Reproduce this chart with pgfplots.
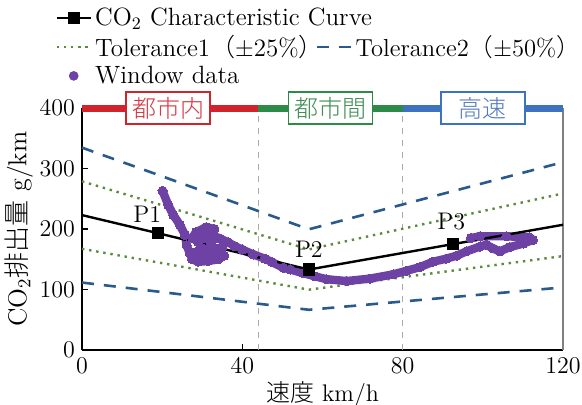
\documentclass[border=0pt]{standalone}
\usepackage{fontspec}
\usepackage{pgfplots}
\pgfplotsset{compat=1.18}
\newfontfamily\cjk{Noto Sans CJK JP}
\newfontfamily\cjkl{Noto Sans CJK JP Light}
\definecolor{bandred}{RGB}{210,35,45}
\definecolor{bandgreen}{RGB}{46,139,71}
\definecolor{bandblue}{RGB}{61,114,192}
\definecolor{txtred}{RGB}{215,55,65}
\definecolor{txtgreen}{RGB}{60,140,80}
\definecolor{txtblue}{RGB}{80,120,190}
\definecolor{tolgreen}{RGB}{90,140,60}
\definecolor{tolblue}{RGB}{40,90,140}
\definecolor{winpurple}{RGB}{110,65,165}
\definecolor{vgray}{RGB}{170,170,170}
\begin{document}
\begin{tikzpicture}[font=\fontsize{12}{14}\selectfont]
\useasboundingbox (-41pt,-27pt) rectangle (250pt,175pt);
\begin{axis}[
 at={(0,0)}, anchor=south west,
 scale only axis, width=240.5pt, height=121pt,
 xmin=0, xmax=120, ymin=0, ymax=400,
 axis x line*=bottom, axis y line*=left,
 axis line style={line width=0.8pt, black},
 xtick={0,40,80,120}, ytick={0,100,200,300,400},
 tick align=inside, major tick length=3pt,
 tick style={black, line width=0.6pt},
 clip=false,
 /pgf/number format/assume math mode=true,
 xlabel={{\cjkl 速度} km/h},
 ylabel={CO\textsubscript{2}{\cjkl 排出量} g/km},
 xlabel style={yshift=3pt},
 ylabel style={yshift=-3.5pt, font=\fontsize{13}{15}\selectfont},
 legend cell align=left,
 legend style={draw=none, fill=none, at={(-0.056,1.252)}, anchor=west,
   inner sep=0pt, row sep=0pt, nodes={inner sep=1.6pt},
   font=\fontsize{12.5}{14}\selectfont},
]
\addlegendimage{black, line width=1.2pt, mark=square*, mark size=2.5pt}
\addlegendentry{CO\textsubscript{2} Characteristic Curve}
\addlegendimage{tolgreen, line width=1.2pt, dash pattern=on 1.2pt off 2.4pt}
\addlegendentry{Tolerance1{\cjkl （}$\pm$25\%{\cjkl ）}}
\addlegendimage{only marks, mark=*, mark size=2.2pt, winpurple}
\addlegendentry{Window data}

% region separators
\addplot[forget plot, vgray, line width=0.6pt, dashed] coordinates {(44,0) (44,400)};
\addplot[forget plot, vgray, line width=0.6pt, dashed] coordinates {(80,0) (80,400)};
\addplot[forget plot, gray, line width=0.8pt] coordinates {(120,0) (120,400)};

% tolerance 2 (+-50%)
\addplot[forget plot, tolblue, line width=1.3pt, dash pattern=on 6pt off 5pt] coordinates {(0,334.5) (19,289.5) (56.6,199.5) (92.5,262.5) (120,310.5)};
\addplot[forget plot, tolblue, line width=1.3pt, dash pattern=on 6pt off 5pt] coordinates {(0,111.5) (19,96.5) (56.6,66.5) (92.5,87.5) (120,103.5)};
% tolerance 1 (+-25%)
\addplot[forget plot, tolgreen, line width=1.2pt, dash pattern=on 1.2pt off 2.4pt] coordinates {(0,278.75) (19,241.25) (56.6,166.25) (92.5,218.75) (120,258.75)};
\addplot[forget plot, tolgreen, line width=1.2pt, dash pattern=on 1.2pt off 2.4pt] coordinates {(0,167.25) (19,144.75) (56.6,99.75) (92.5,131.25) (120,155.25)};

% window data
\addplot[forget plot, winpurple, line width=4.2pt, line join=round, line cap=round, mark=*, mark size=2.3pt, mark options={line width=0pt}] coordinates {
(20.1,263) (21.5,240) (22.8,223) (24.4,207) (25.7,190) (26.1,173) (26.9,160)
(27.5,150) (29,146) (31.5,147) (34,150) (35.5,156) (33,158) (30,156) (28.5,162)
(30,168) (33,166) (35,170) (34.5,165) (32,172) (29,178)
(27.5,186) (28.5,195) (31,203) (33,200) (30.5,192) (30,184) (32.5,182) (32.5,190)
(34.5,184) (36.5,178) (38,172)
(40,166) (42.7,158) (45.6,151) (47.5,145) (50.2,136) (52,133) (55.2,127) (58,122)
(61,117) (66,114) (71.8,118) (77.6,125) (81,131) (84.3,137) (87.6,146) (90.9,151)
(93.5,156) (95.9,163) (99.3,171) (100.9,174) (102.5,168) (104.2,163) (106.7,170)
(110.1,176) (112.5,182) (111.7,186) (105.9,188) (99.3,188) (97,185)};

% characteristic curve
\addplot[forget plot, black, line width=1.2pt, mark=square*, mark size=2.5pt, mark indices={2,3,4}] coordinates {(0,223) (19,193) (56.6,133) (92.5,175) (120,207)};
\node at (axis cs:16.3,224) {P1};
\node at (axis cs:56.6,167) {P2};
\node at (axis cs:92.1,212.5) {P3};

% top band
\addplot[forget plot, bandred, line width=3.5pt] coordinates {(0,400) (44,400)};
\addplot[forget plot, bandgreen, line width=3.5pt] coordinates {(44,400) (80,400)};
\addplot[forget plot, bandblue, line width=3.5pt] coordinates {(80,400) (120,400)};
\node[draw=bandred, line width=0.8pt, fill=white, text=txtred, minimum width=42pt, minimum height=16pt, inner sep=1pt] at (axis cs:21.5,400) {\cjkl 都市内};
\node[draw=bandgreen, line width=0.8pt, fill=white, text=txtgreen, minimum width=42pt, minimum height=16pt, inner sep=1pt] at (axis cs:62,400) {\cjkl 都市間};
\node[draw=bandblue, line width=0.8pt, fill=white, text=txtblue, minimum width=42pt, minimum height=16pt, inner sep=1pt] at (axis cs:100,400) {\cjkl 高速};
\end{axis}
\begin{axis}[
 at={(0,0)}, anchor=south west,
 scale only axis, width=240.5pt, height=121pt,
 hide axis, xmin=0, xmax=1, ymin=0, ymax=1,
 legend cell align=left,
 legend style={draw=none, fill=none, at={(0.486,1.252)}, anchor=west,
   inner sep=0pt, nodes={inner sep=1.4pt},
   font=\fontsize{12.3}{14}\selectfont},
]
\addlegendimage{tolblue, line width=1.3pt, dash pattern=on 6pt off 5pt}
\addlegendentry{Tolerance2{\cjkl （}$\pm$50\%\makebox[0.4em][l]{\cjkl ）}}
\end{axis}
\end{tikzpicture}
\end{document}
